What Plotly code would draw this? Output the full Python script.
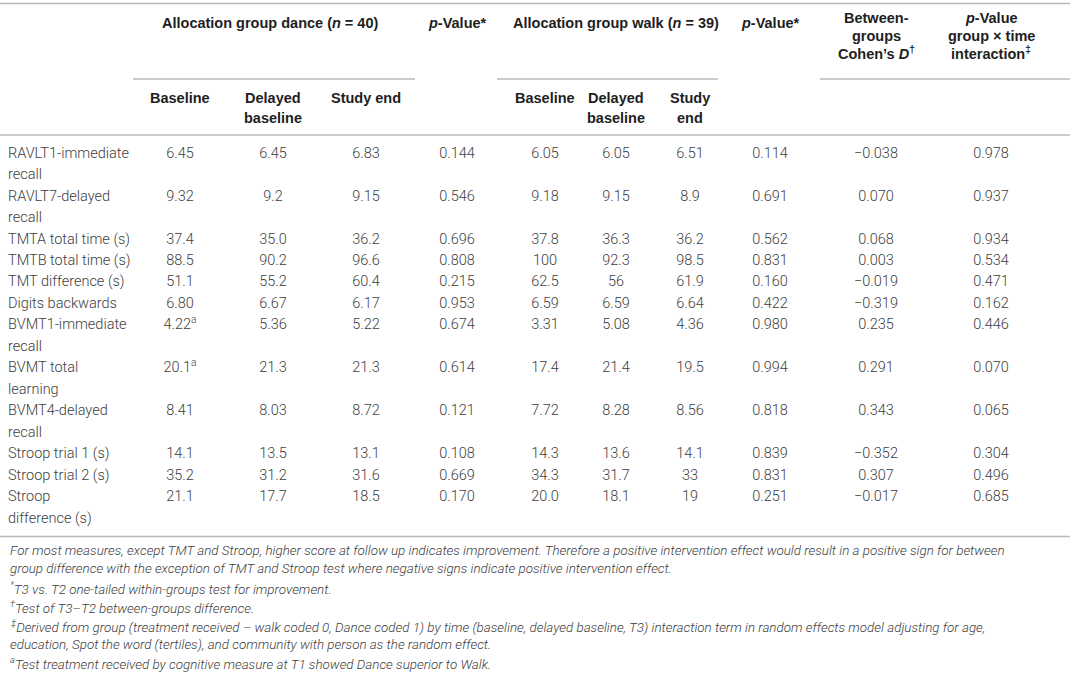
import plotly.graph_objects as go

# ---------------- data ----------------
measures = [
    ["RAVLT1-immediate", "recall"],
    ["RAVLT7-delayed", "recall"],
    ["TMTA total time (s)"],
    ["TMTB total time (s)"],
    ["TMT difference (s)"],
    ["Digits backwards"],
    ["BVMT1-immediate", "recall"],
    ["BVMT total", "learning"],
    ["BVMT4-delayed", "recall"],
    ["Stroop trial 1 (s)"],
    ["Stroop trial 2 (s)"],
    ["Stroop", "difference (s)"],
]
dance_baseline = ["6.45", "9.32", "37.4", "88.5", "51.1", "6.80", "4.22", "20.1", "8.41", "14.1", "35.2", "21.1"]
dance_baseline_note = ["", "", "", "", "", "", "a", "a", "", "", "", ""]
dance_delayed = ["6.45", "9.2", "35.0", "90.2", "55.2", "6.67", "5.36", "21.3", "8.03", "13.5", "31.2", "17.7"]
dance_end = ["6.83", "9.15", "36.2", "96.6", "60.4", "6.17", "5.22", "21.3", "8.72", "13.1", "31.6", "18.5"]
dance_p = ["0.144", "0.546", "0.696", "0.808", "0.215", "0.953", "0.674", "0.614", "0.121", "0.108", "0.669", "0.170"]
walk_baseline = ["6.05", "9.18", "37.8", "100", "62.5", "6.59", "3.31", "17.4", "7.72", "14.3", "34.3", "20.0"]
walk_delayed = ["6.05", "9.15", "36.3", "92.3", "56", "6.59", "5.08", "21.4", "8.28", "13.6", "31.7", "18.1"]
walk_end = ["6.51", "8.9", "36.2", "98.5", "61.9", "6.64", "4.36", "19.5", "8.56", "14.1", "33", "19"]
walk_p = ["0.114", "0.691", "0.562", "0.831", "0.160", "0.422", "0.980", "0.994", "0.818", "0.839", "0.831", "0.251"]
cohens_d = ["\u22120.038", "0.070", "0.068", "0.003", "\u22120.019", "\u22120.319", "0.235", "0.291", "0.343", "\u22120.352", "0.307", "\u22120.017"]
p_interaction = ["0.978", "0.937", "0.934", "0.534", "0.471", "0.162", "0.446", "0.070", "0.065", "0.304", "0.496", "0.685"]

footnotes = [
    "For most measures, except TMT and Stroop, higher score at follow up indicates improvement. Therefore a positive intervention effect would result in a positive sign for between",
    "group difference with the exception of TMT and Stroop test where negative signs indicate positive intervention effect.",
    "<sup>*</sup>T3 vs. T2 one-tailed within-groups test for improvement.",
    "<sup>\u2020</sup>Test of T3\u2013T2 between-groups difference.",
    "<sup>\u2021</sup>Derived from group (treatment received \u2013 walk coded 0, Dance coded 1) by time (baseline, delayed baseline, T3) interaction term in random effects model adjusting for age,",
    "education, Spot the word (tertiles), and community with person as the random effect.",
    "<sup>a</sup>Test treatment received by cognitive measure at T1 showed Dance superior to Walk.",
]

# ---------------- layout constants ----------------
W, H = 1073, 676
col_x = [180, 273, 366, 457, 545, 616, 690, 770, 876, 991]
label_x = 8
row_y0, row_pitch = 154, 21.47
rule_color = "#b9b9b9"
body_color = "#404040"
head_color = "#1e1e1e"
body_font = "Roboto"
head_font = "Liberation Sans"
body_size = 14.5
head_size = 14.5
foot_size = 13.4

fig = go.Figure()

# line slot for each measure
line_idx = []
k = 0
for m in measures:
    line_idx.append(k)
    k += len(m)
row_y = [row_y0 + i * row_pitch for i in line_idx]

# labels (each line)
lab_x, lab_y, lab_t = [], [], []
for m, i in zip(measures, line_idx):
    for j, t in enumerate(m):
        lab_x.append(label_x)
        lab_y.append(row_y0 + (i + j) * row_pitch)
        lab_t.append(t)
fig.add_trace(go.Scatter(x=lab_x, y=lab_y, text=lab_t, mode="text", textposition="middle right",
                         textfont=dict(family=body_font, size=body_size, color=body_color, weight=300),
                         hoverinfo="skip", showlegend=False))

columns = [
    [v + (f"<sup>{n}</sup>" if n else "") for v, n in zip(dance_baseline, dance_baseline_note)],
    dance_delayed, dance_end, dance_p,
    walk_baseline, walk_delayed, walk_end, walk_p,
    cohens_d, p_interaction,
]
for cx, vals in zip(col_x, columns):
    fig.add_trace(go.Scatter(x=[cx] * len(vals), y=row_y, text=vals, mode="text",
                             textposition="middle center",
                             textfont=dict(family=body_font, size=body_size, color=body_color, weight=300),
                             hoverinfo="skip", showlegend=False))

# ---------------- header ----------------
def head(x, y, text):
    fig.add_annotation(x=x, y=y, xref="x", yref="y", text=text, showarrow=False,
                       xanchor="center", yanchor="middle",
                       font=dict(family=head_font, size=head_size, color=head_color, weight="bold"))

head(270, 23, "Allocation group dance (<i>n</i> = 40)")
head(col_x[3], 23, "<i>p</i>-Value*")
head(616, 23, "Allocation group walk (<i>n</i> = 39)")
head(col_x[7], 23, "<i>p</i>-Value*")
for j, t in enumerate(["Between-", "groups", "Cohen\u2019s <i>D</i><sup>\u2020</sup>"]):
    head(col_x[8], 18 + j * 17.5, t)
for j, t in enumerate(["<i>p</i>-Value", "group \u00d7 time", "interaction<sup>\u2021</sup>"]):
    head(col_x[9], 18 + j * 17.5, t)

sub_heads = [["Baseline"], ["Delayed", "baseline"], ["Study end"],
             ["Baseline"], ["Delayed", "baseline"], ["Study", "end"]]
for cx, lines in zip([col_x[0], col_x[1], col_x[2], col_x[4], col_x[5], col_x[6]], sub_heads):
    for j, t in enumerate(lines):
        head(cx, 98 + j * 19.5, t)

# ---------------- rules ----------------
rules = [(0, 1070, 3.5), (133, 415, 79), (497, 718, 79), (820, 1070, 79), (0, 1070, 135), (0, 1070, 536.5)]
for x0, x1, y in rules:
    fig.add_shape(type="line", xref="x", yref="y", x0=x0, x1=x1, y0=y, y1=y,
                  line=dict(color=rule_color, width=1.5))

# ---------------- footnotes ----------------
for j, t in enumerate(footnotes):
    fig.add_annotation(x=label_x, y=550 + j * 18.9, xref="x", yref="y", text=t, showarrow=False,
                       xanchor="left", yanchor="middle",
                       font=dict(family=body_font, size=foot_size, color=body_color, weight=300, style="italic"))

fig.update_layout(
    width=W, height=H, margin=dict(l=0, r=0, t=0, b=0),
    paper_bgcolor="white", plot_bgcolor="white",
    xaxis=dict(range=[0, W], visible=False, fixedrange=True),
    yaxis=dict(range=[H, 0], visible=False, fixedrange=True),
)
fig.write_html("out.html", config={"displayModeBar": False},
               post_script="document.body.style.margin='0';document.body.style.overflow='hidden';")
